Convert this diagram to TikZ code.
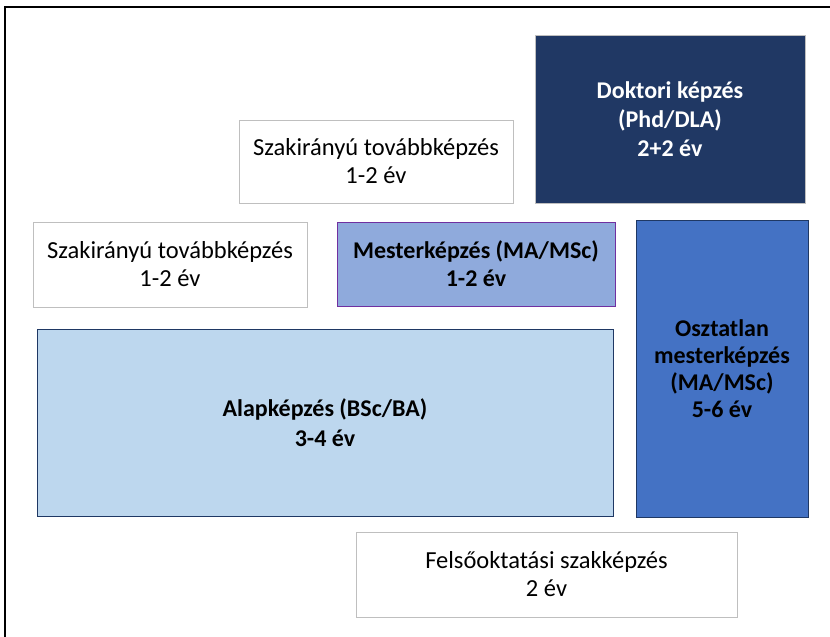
\documentclass[tikz,border=0pt]{standalone}
\usepackage{fontspec}
\setmainfont{Carlito}
\definecolor{navy}{HTML}{203864}
\definecolor{graybd}{HTML}{BFBFBF}
\definecolor{mestfill}{HTML}{8FAADC}
\definecolor{mestbd}{HTML}{7030A0}
\definecolor{alapfill}{HTML}{BDD7EE}
\definecolor{darkbd}{HTML}{1F3864}
\definecolor{osztfill}{HTML}{4472C4}
\tikzset{
  box/.style={draw, line width=0.9pt, rectangle, align=center, inner sep=0pt,
    font=\fontsize{24.5}{28}\selectfont},
  whitebox/.style={box, draw=graybd, fill=white},
}
\begin{document}
\begin{tikzpicture}[x=1pt,y=-1pt]
\useasboundingbox (0,0) rectangle (830,637);
\fill[white] (0,0) rectangle (830,637);
\draw[black, line width=1.6pt] (5,660) -- (5,7) -- (850,7);
\node[box, draw=graybd, fill=navy, text=white, font=\fontsize{24}{29}\selectfont\bfseries,
  minimum width=270, minimum height=168] (doc) at (670,119)
  {Doktori képzés\\(Phd/DLA)\\2+2 év};
\node[whitebox, minimum width=274, minimum height=83] (sz1) at (376,161.5)
  {Szakirányú továbbképzés\\1-2 év};
\node[whitebox, minimum width=274, minimum height=85] (sz2) at (170,264.5)
  {Szakirányú továbbképzés\\1-2 év};
\node[box, draw=mestbd, fill=mestfill, font=\fontsize{24}{28}\selectfont\bfseries,
  minimum width=278, minimum height=84] (mest) at (476,264)
  {Mesterképzés (MA/MSc)\\1-2 év};
\node[box, draw=darkbd, fill=alapfill, font=\fontsize{24}{30}\selectfont\bfseries,
  minimum width=576, minimum height=187] (alap) at (325,422.5)
  {Alapképzés (BSc/BA)\\3-4 év};
\node[box, draw=darkbd, fill=osztfill, font=\fontsize{24}{27}\selectfont\bfseries,
  minimum width=172, minimum height=297] (oszt) at (722,368.5)
  {Osztatlan\\mesterképzés\\(MA/MSc)\\5-6 év};
\node[whitebox, minimum width=381, minimum height=85] (felso) at (546.5,574.5)
  {Felsőoktatási szakképzés\\2 év};
\end{tikzpicture}
\end{document}
